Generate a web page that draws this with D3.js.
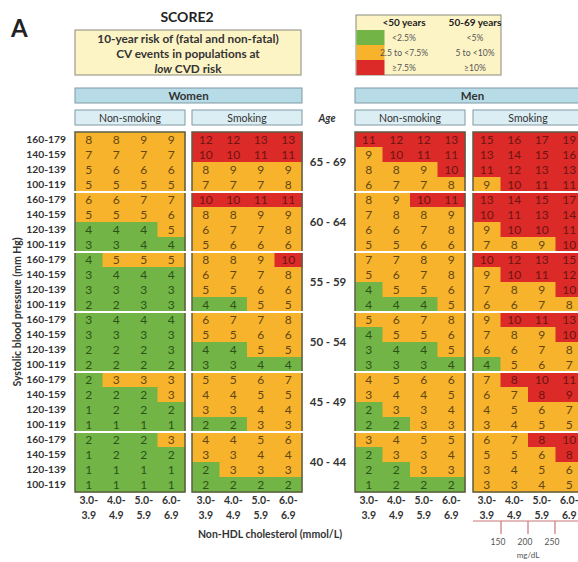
<!DOCTYPE html>
<html>
<head>
<meta charset="utf-8">
<script src="https://cdn.jsdelivr.net/npm/d3@7"></script>
<style>
body { margin: 0; background: #fff; }
text { font-family: Lato, "Open Sans", sans-serif; }
</style>
</head>
<body>
<svg width="578" height="562"></svg>
<script>
var ages = ['65 - 69', '60 - 64', '55 - 59', '50 - 54', '45 - 49', '40 - 44'];
var sbpLabels = ['160-179', '140-159', '120-139', '100-119'];
var cholLabels = ['3.0-3.9', '4.0-4.9', '5.0-5.9', '6.0-6.9'];
var mgdlTicks = [150, 200, 250];
var legendHeads = ['<50 years', '50-69 years'];
var legendUnder50 = ['<2.5%', '2.5 to <7.5%', '\u22657.5%'];
var legendOver50 = ['<5%', '5 to <10%', '\u226510%'];

// risk %, per age block: rows = SBP 160-179 .. 100-119, cols = chol 3.0 .. 6.9
var womenNonSmoking = [
  [[8,8,9,9],[7,7,7,7],[5,6,6,6],[5,5,5,5]],
  [[6,6,7,7],[5,5,5,6],[4,4,4,5],[3,3,4,4]],
  [[4,5,5,5],[3,4,4,4],[3,3,3,3],[2,2,3,3]],
  [[3,4,4,4],[3,3,3,3],[2,2,2,3],[2,2,2,2]],
  [[2,3,3,3],[2,2,2,3],[1,2,2,2],[1,1,1,1]],
  [[2,2,2,3],[1,2,2,2],[1,1,1,1],[1,1,1,1]]
];
var womenSmoking = [
  [[12,12,13,13],[10,10,11,11],[8,9,9,9],[7,7,7,8]],
  [[10,10,11,11],[8,8,9,9],[6,7,7,8],[5,6,6,6]],
  [[8,8,9,10],[6,7,7,8],[5,5,6,6],[4,4,5,5]],
  [[6,7,7,8],[5,5,6,6],[4,4,5,5],[3,3,4,4]],
  [[5,5,6,7],[4,4,5,5],[3,3,4,4],[2,2,3,3]],
  [[4,4,5,6],[3,3,4,4],[2,3,3,3],[2,2,2,2]]
];
var menNonSmoking = [
  [[11,12,12,13],[9,10,11,11],[8,8,9,10],[6,7,7,8]],
  [[8,9,10,11],[7,8,8,9],[6,6,7,8],[5,5,6,6]],
  [[7,7,8,9],[5,6,7,8],[4,5,5,6],[4,4,4,5]],
  [[5,6,7,8],[4,5,5,6],[3,4,4,5],[3,3,3,4]],
  [[4,5,6,6],[3,4,4,5],[2,3,3,4],[2,2,3,3]],
  [[3,4,5,5],[2,3,3,4],[2,2,3,3],[1,2,2,2]]
];
var menSmoking = [
  [[15,16,17,19],[13,14,15,16],[11,12,13,13],[9,10,11,11]],
  [[13,14,15,17],[10,11,13,14],[9,10,10,11],[7,8,9,10]],
  [[10,12,13,15],[9,10,11,12],[7,8,9,10],[6,6,7,8]],
  [[9,10,11,13],[7,8,9,10],[6,6,7,8],[4,5,6,7]],
  [[7,8,10,11],[6,7,8,9],[4,5,6,7],[3,4,5,5]],
  [[6,7,8,10],[5,5,6,8],[3,4,5,6],[3,3,4,5]]
];

var fills = ['#72b546', '#f6b32b', '#dc2a28'];
var inks = ['#2d5219', '#634612', '#6e1512'];

function level(v, age) {
  var lo = parseInt(age) < 50 ? 2.5 : 5;
  var hi = parseInt(age) < 50 ? 7.5 : 10;
  return v < lo ? 0 : (v < hi ? 1 : 2);
}

var svg = d3.select('svg');
svg.append('rect').attr('width', 578).attr('height', 562).attr('fill', '#fff');

var rowIds = d3.range(ages.length * sbpLabels.length);
var y = d3.scaleBand().domain(rowIds).range([132, 492]);
var ageY = d3.scaleBand().domain(ages).range([132, 492]);

svg.append('text').attr('x', 11).attr('y', 37)
    .style('font-size', '24px').style('font-weight', 'bold').attr('fill', '#222').text('A');

svg.append('text').attr('x', 187).attr('y', 22).attr('text-anchor', 'middle')
    .style('font-size', '14px').style('font-weight', 'bold').attr('fill', '#222').text('SCORE2');

// title box
svg.append('rect').attr('x', 75).attr('y', 30).attr('width', 226).attr('height', 45)
    .attr('fill', '#fdf4c6').attr('stroke', '#8a8a80').attr('stroke-width', 1);
var tl = svg.append('text').attr('text-anchor', 'middle').attr('fill', '#333')
    .style('font-size', '11.8px').style('font-weight', 'bold');
tl.append('tspan').attr('x', 188).attr('y', 42.5).text('10-year risk of (fatal and non-fatal)');
tl.append('tspan').attr('x', 188).attr('y', 57.5).text('CV events in populations at');
var t3 = tl.append('tspan').attr('x', 188).attr('y', 72.5);
t3.append('tspan').style('font-style', 'italic').text('low');
t3.append('tspan').text('  CVD risk');

// legend box
svg.append('rect').attr('x', 356).attr('y', 15).attr('width', 145).attr('height', 60)
    .attr('fill', '#fdf4c6').attr('stroke', '#8a8a80').attr('stroke-width', 1);
var lg = d3.scaleBand().domain([0, 1, 2]).range([30, 75]);
svg.selectAll('.sw').data(fills).enter().append('rect')
    .attr('x', 356.5).attr('y', function(d, i){ return lg(i); })
    .attr('width', 28).attr('height', lg.bandwidth()).attr('fill', function(d){ return d; });
var lgx = d3.scalePoint().domain(legendHeads).range([404, 475]);
svg.selectAll('.lh').data(legendHeads).enter().append('text')
    .attr('x', function(d){ return lgx(d); }).attr('y', 26).attr('text-anchor', 'middle')
    .style('font-size', '10px').style('font-weight', 'bold').attr('fill', '#222').text(function(d){ return d; });
[legendUnder50, legendOver50].forEach(function(col, j) {
  svg.selectAll('.lt' + j).data(col).enter().append('text')
      .attr('x', lgx(legendHeads[j])).attr('y', function(d, i){ return lg(i) + lg.bandwidth() / 2 + 3; })
      .attr('text-anchor', 'middle').style('font-size', '8.6px').attr('fill', '#555')
      .text(function(d){ return d; });
});

// panels
var panels = [
  { sex: 'Women', smoke: 'Non-smoking', data: womenNonSmoking, x: 75 },
  { sex: 'Women', smoke: 'Smoking', data: womenSmoking, x: 192 },
  { sex: 'Men', smoke: 'Non-smoking', data: menNonSmoking, x: 355 },
  { sex: 'Men', smoke: 'Smoking', data: menSmoking, x: 473 }
];
var pw = 110;

// sex header bars
[['Women', 75, 227], ['Men', 355, 235]].forEach(function(h) {
  svg.append('rect').attr('x', h[1]).attr('y', 88).attr('width', h[2]).attr('height', 15)
      .attr('fill', '#b7dce7').attr('stroke', '#7f9aa3').attr('stroke-width', 1);
  svg.append('text').attr('x', h[1] + h[2] / 2).attr('y', 100).attr('text-anchor', 'middle')
      .style('font-size', '11.5px').style('font-weight', 'bold').attr('fill', '#333').text(h[0]);
});

panels.forEach(function(p) {
  var x = d3.scaleBand().domain(cholLabels).range([p.x, p.x + pw]);
  var g = svg.append('g');

  g.append('rect').attr('x', p.x).attr('y', 110).attr('width', pw).attr('height', 15)
      .attr('fill', '#dbeef4').attr('stroke', '#7f9aa3').attr('stroke-width', 1);
  g.append('text').attr('x', p.x + pw / 2).attr('y', 121.5).attr('text-anchor', 'middle')
      .style('font-size', '10.5px').attr('fill', '#333').text(p.smoke);

  var cells = [];
  p.data.forEach(function(block, a) {
    block.forEach(function(row, r) {
      row.forEach(function(v, c) {
        cells.push({ v: v, row: a * 4 + r, col: cholLabels[c], lv: level(v, ages[a]) });
      });
    });
  });

  g.selectAll('.cell').data(cells).enter().append('rect')
      .attr('x', function(d){ return x(d.col); })
      .attr('y', function(d){ return y(d.row); })
      .attr('width', x.bandwidth() + 0.5).attr('height', y.bandwidth() + 0.5)
      .attr('fill', function(d){ return fills[d.lv]; });
  g.selectAll('.num').data(cells).enter().append('text')
      .attr('x', function(d){ return x(d.col) + x.bandwidth() / 2; })
      .attr('y', function(d){ return y(d.row) + y.bandwidth() / 2 + 4.3; })
      .attr('text-anchor', 'middle').style('font-size', '12px')
      .attr('fill', function(d){ return inks[d.lv]; })
      .text(function(d){ return d.v; });

  g.append('rect').attr('x', p.x).attr('y', 132).attr('width', pw).attr('height', 360)
      .attr('fill', 'none').attr('stroke', '#5d5d45').attr('stroke-width', 1.5);
  g.selectAll('.sep').data(ages.slice(1)).enter().append('line')
      .attr('x1', p.x - 2).attr('x2', p.x + pw + 2)
      .attr('y1', function(d){ return ageY(d); }).attr('y2', function(d){ return ageY(d); })
      .attr('stroke', '#fff').attr('stroke-width', 2);

  cholLabels.forEach(function(c) {
    var parts = c.split('-');
    var t = g.append('text').attr('text-anchor', 'middle').style('font-size', '10.5px')
        .style('font-weight', 'bold').attr('fill', '#333');
    t.append('tspan').attr('x', x(c) + x.bandwidth() / 2).attr('y', 504).text(parts[0] + '-');
    t.append('tspan').attr('x', x(c) + x.bandwidth() / 2).attr('y', 519).text(parts[1]);
  });
});

// SBP labels
rowIds.forEach(function(i) {
  svg.append('text').attr('x', 66).attr('y', y(i) + y.bandwidth() / 2 + 3.5).attr('text-anchor', 'end')
      .style('font-size', '10.3px').style('font-weight', 'bold').attr('fill', '#333')
      .text(sbpLabels[i % 4]);
});
svg.append('text').attr('transform', 'translate(21,312) rotate(-90)').attr('text-anchor', 'middle')
    .style('font-size', '10.5px').style('font-weight', 'bold').attr('fill', '#333')
    .text('Systolic blood pressure (mm Hg)');

// age labels
svg.append('text').attr('x', 327).attr('y', 121.5).attr('text-anchor', 'middle')
    .style('font-size', '10.5px').style('font-style', 'italic').style('font-weight', 'bold')
    .attr('fill', '#333').text('Age');
svg.selectAll('.age').data(ages).enter().append('text')
    .attr('x', 328).attr('y', function(d){ return ageY(d) + ageY.bandwidth() / 2 + 4; })
    .attr('text-anchor', 'middle').style('font-size', '11.5px').style('font-weight', 'bold')
    .attr('fill', '#333').text(function(d){ return d; });

svg.append('text').attr('x', 270).attr('y', 538).attr('text-anchor', 'middle')
    .style('font-size', '10.5px').style('font-weight', 'bold').attr('fill', '#333')
    .text('Non-HDL cholesterol (mmol/L)');

// mg/dL scale under men smoking
var mx = d3.scaleLinear().domain([100, 300]).range([474, 582]);
svg.append('line').attr('x1', 473).attr('x2', 590).attr('y1', 521).attr('y2', 521)
    .attr('stroke', '#c9767a').attr('stroke-width', 1.2);
svg.selectAll('.mt').data(mgdlTicks).enter().append('line')
    .attr('x1', function(d){ return mx(d); }).attr('x2', function(d){ return mx(d); })
    .attr('y1', 521).attr('y2', 534).attr('stroke', '#c9767a').attr('stroke-width', 1.2);
svg.selectAll('.ml').data(mgdlTicks).enter().append('text')
    .attr('x', function(d){ return mx(d) - 3; }).attr('y', 545).attr('text-anchor', 'middle')
    .style('font-size', '8.5px').attr('fill', '#555').text(function(d){ return d; });
svg.append('text').attr('x', 528).attr('y', 558).attr('text-anchor', 'middle')
    .style('font-size', '8px').attr('fill', '#555').text('mg/dL');
</script>
</body>
</html>
